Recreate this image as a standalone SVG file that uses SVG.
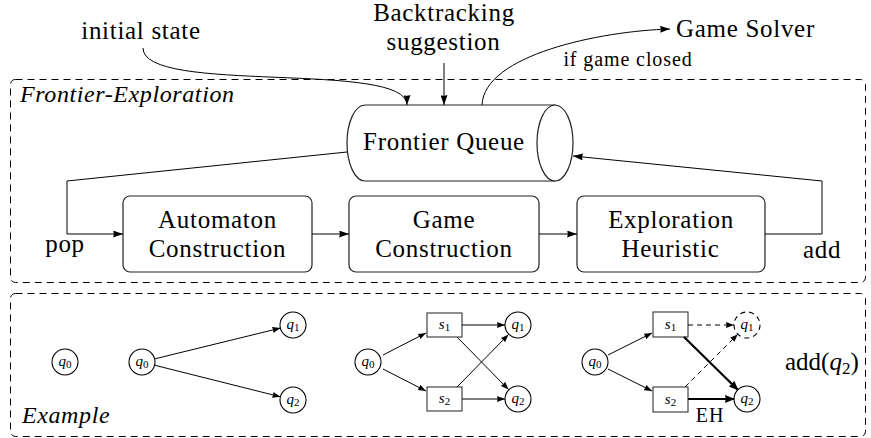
<svg xmlns="http://www.w3.org/2000/svg" width="871" height="438" viewBox="0 0 871 438">
<style>
text{font-family:"Liberation Serif","Times New Roman",serif;fill:#000}
.lbl{font-size:25px;letter-spacing:0.7px}
.fl{font-size:24px;font-style:italic;letter-spacing:0.6px}
.sm{font-size:20px;letter-spacing:0.9px}
.it{font-style:italic}
.frame{fill:none;stroke:#000;stroke-width:1;stroke-dasharray:7 5}
.box{fill:#fff;stroke:#222;stroke-width:1.2}
.ln{fill:none;stroke:#000;stroke-width:1}
.ex{fill:none;stroke:#000;stroke-width:1}
.thick{fill:none;stroke:#000;stroke-width:2.2}
.dash{stroke-dasharray:5 4}
.st{fill:#fff;stroke:#000;stroke-width:1.1}
.sbox{fill:#fff;stroke:#333;stroke-width:1.1}
.nl{font-size:15px;text-anchor:middle}
.sub{font-size:11px}
</style>
<defs>
<marker id="ah" viewBox="0 0 10 7" refX="10" refY="3.5" markerWidth="10" markerHeight="7" markerUnits="userSpaceOnUse" orient="auto"><path d="M0,0 L10,3.5 L0,7 Q1.5,3.5 0,0z" fill="#000"/></marker>
<marker id="as" viewBox="0 0 8 6" refX="8" refY="3" markerWidth="8" markerHeight="6" markerUnits="userSpaceOnUse" orient="auto"><path d="M0,0 L8,3 L0,6 Q1.2,3 0,0z" fill="#000"/></marker>
<marker id="ab" viewBox="0 0 10 8" refX="9" refY="4" markerWidth="10" markerHeight="8" markerUnits="userSpaceOnUse" orient="auto"><path d="M0,0 L10,4 L0,8 Q1.5,4 0,0z" fill="#000"/></marker>
</defs>

<g id="frame-frontier">
<rect class="frame" x="10.5" y="79.5" width="855" height="203" rx="5"/>
<text class="fl" x="20" y="102">Frontier-Exploration</text>
</g>
<g id="frame-example">
<rect class="frame" x="10.5" y="293.5" width="855" height="143" rx="5"/>
<text class="fl" x="22" y="423">Example</text>
</g>

<g id="label-initial">
<text class="lbl" x="141" y="39" text-anchor="middle">initial state</text>
</g>
<g id="label-backtracking">
<text class="lbl" x="444" y="21" text-anchor="middle">Backtracking</text>
<text class="lbl" x="443.5" y="50" text-anchor="middle">suggestion</text>
</g>
<g id="label-solver">
<text class="lbl" x="745.5" y="37" text-anchor="middle">Game Solver</text>
</g>

<g id="frontier-queue">
<path class="box" d="M365,105 L555,105 L555,181 L365,181 A18,38 0 0 1 365,105 Z"/>
<ellipse class="box" cx="555" cy="143" rx="18" ry="38"/>
<text class="lbl" x="444" y="150" text-anchor="middle">Frontier Queue</text>
</g>

<g id="automaton">
<rect class="box" x="123" y="196" width="189" height="76" rx="7"/>
<text class="lbl" x="217.5" y="228" text-anchor="middle">Automaton</text>
<text class="lbl" x="217.5" y="257" text-anchor="middle">Construction</text>
</g>
<g id="game">
<rect class="box" x="349" y="196" width="190" height="76" rx="7"/>
<text class="lbl" x="444" y="228" text-anchor="middle">Game</text>
<text class="lbl" x="444" y="257" text-anchor="middle">Construction</text>
</g>
<g id="heuristic">
<rect class="box" x="577" y="196" width="188" height="76" rx="7"/>
<text class="lbl" x="671" y="228" text-anchor="middle">Exploration</text>
<text class="lbl" x="670.5" y="257" text-anchor="middle">Heuristic</text>
</g>

<g id="connectors">
<path class="ln" d="M143,48 C143,95 407,60 407,105" marker-end="url(#ah)"/>
<path class="ln" d="M444,63 L444,105" marker-end="url(#ah)"/>
<path class="ln" d="M482,105 C484,55 600,31 670,29" marker-end="url(#ah)"/>
<text class="sm" x="628" y="66" text-anchor="middle">if game closed</text>
<path class="ln" d="M347,152 L67,181 L67,234 L123,234" marker-end="url(#ah)"/>
<text class="lbl" x="65" y="252" text-anchor="middle">pop</text>
<path class="ln" d="M312,234 L349,234" marker-end="url(#ah)"/>
<path class="ln" d="M539,234 L577,234" marker-end="url(#ah)"/>
<path class="ln" d="M765,234 L822,234 L822,181 L573,156" marker-end="url(#ah)"/>
<text class="lbl" x="822" y="258" text-anchor="middle">add</text>
</g>

<g id="ex1">
<circle class="st" cx="65" cy="362" r="13"/>
<text class="nl" x="65" y="366"><tspan class="it">q</tspan><tspan class="sub" dy="2">0</tspan></text>
</g>

<g id="ex2">
<circle class="st" cx="142" cy="362" r="13"/>
<text class="nl" x="142" y="366"><tspan class="it">q</tspan><tspan class="sub" dy="2">0</tspan></text>
<circle class="st" cx="293" cy="325" r="13"/>
<text class="nl" x="293" y="329"><tspan class="it">q</tspan><tspan class="sub" dy="2">1</tspan></text>
<circle class="st" cx="293" cy="400" r="13"/>
<text class="nl" x="293" y="404"><tspan class="it">q</tspan><tspan class="sub" dy="2">2</tspan></text>
<g id="ex2-edges">
<path class="ex" d="M154.6,358.9 L280.4,328.1" marker-end="url(#as)"/>
<path class="ex" d="M154.6,365.2 L280.4,396.8" marker-end="url(#as)"/>
</g>
</g>

<g id="ex3">
<circle class="st" cx="368" cy="362" r="13"/>
<text class="nl" x="368" y="366"><tspan class="it">q</tspan><tspan class="sub" dy="2">0</tspan></text>
<rect class="sbox" x="427" y="313" width="35" height="24"/>
<text class="nl" x="444.5" y="329"><tspan class="it">s</tspan><tspan class="sub" dy="2">1</tspan></text>
<rect class="sbox" x="427" y="387" width="35" height="24"/>
<text class="nl" x="444.5" y="403"><tspan class="it">s</tspan><tspan class="sub" dy="2">2</tspan></text>
<circle class="st" cx="518" cy="325" r="13"/>
<text class="nl" x="518" y="329"><tspan class="it">q</tspan><tspan class="sub" dy="2">1</tspan></text>
<circle class="st" cx="518" cy="399" r="13"/>
<text class="nl" x="518" y="403"><tspan class="it">q</tspan><tspan class="sub" dy="2">2</tspan></text>
<g id="ex3-edges">
<path class="ex" d="M383,355 L426,333" marker-end="url(#as)"/>
<path class="ex" d="M383,369 L426,391" marker-end="url(#as)"/>
<path class="ex" d="M462,325 L505,325" marker-end="url(#as)"/>
<path class="ex" d="M462,399 L505,399" marker-end="url(#as)"/>
<path class="ex" d="M457,337 L508.5,389.5" marker-end="url(#as)"/>
<path class="ex" d="M457,387 L508.5,334.5" marker-end="url(#as)"/>
</g>
</g>

<g id="ex4">
<circle class="st" cx="595" cy="362" r="13"/>
<text class="nl" x="595" y="366"><tspan class="it">q</tspan><tspan class="sub" dy="2">0</tspan></text>
<rect class="sbox" x="653" y="312" width="35" height="25"/>
<text class="nl" x="670.5" y="329"><tspan class="it">s</tspan><tspan class="sub" dy="2">1</tspan></text>
<rect class="sbox" x="653" y="387" width="35" height="25"/>
<text class="nl" x="670.5" y="404"><tspan class="it">s</tspan><tspan class="sub" dy="2">2</tspan></text>
<circle class="st dash" cx="747" cy="325" r="13"/>
<text class="nl" x="747" y="329"><tspan class="it">q</tspan><tspan class="sub" dy="2">1</tspan></text>
<circle class="st" cx="747" cy="399" r="13"/>
<text class="nl" x="747" y="403"><tspan class="it">q</tspan><tspan class="sub" dy="2">2</tspan></text>
<g id="ex4-edges">
<path class="ex" d="M608,355 L652,333" marker-end="url(#as)"/>
<path class="ex" d="M608,369 L652,391" marker-end="url(#as)"/>
<path class="ex dash" d="M688,325 L734,325" marker-end="url(#as)"/>
<path class="ex dash" d="M685,387 L737.8,334.2" marker-end="url(#as)"/>
<path class="thick" d="M684,337 L737.8,389.8" marker-end="url(#ab)"/>
<path class="thick" d="M688,399 L734,399" marker-end="url(#ab)"/>
</g>
<text class="sm" x="710" y="422" text-anchor="middle">EH</text>
</g>

<g id="add-q2">
<text class="lbl" x="785" y="370" style="letter-spacing:0">add(<tspan class="it">q</tspan><tspan font-size="17" dy="4">2</tspan><tspan dy="-4">)</tspan></text>
</g>
</svg>
